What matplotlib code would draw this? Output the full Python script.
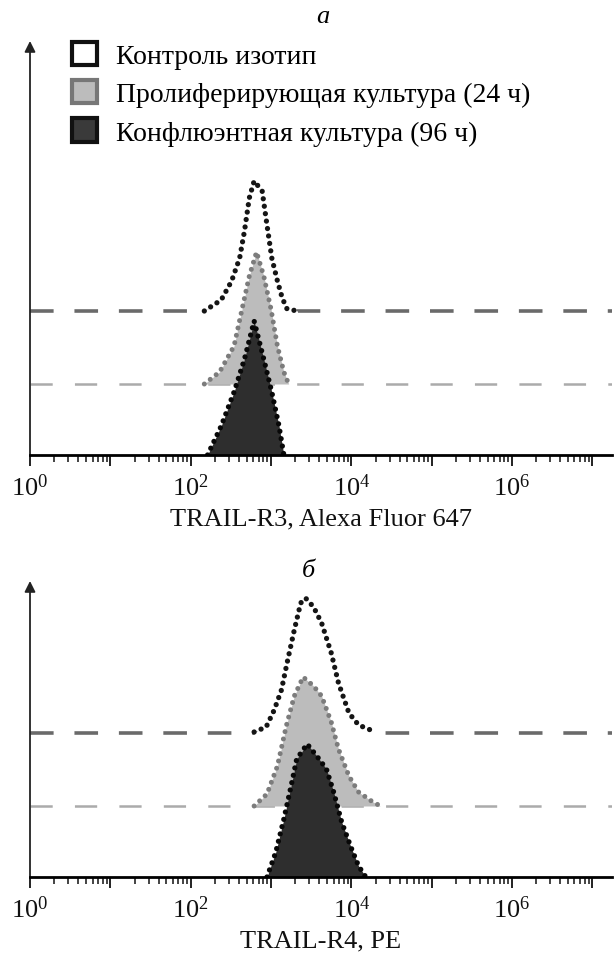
import matplotlib
matplotlib.use("Agg")
import matplotlib.pyplot as plt
import numpy as np
from matplotlib.patches import Patch
from matplotlib.ticker import FixedLocator, LogLocator, FuncFormatter

plt.rcParams['font.family'] = ['Liberation Serif', 'DejaVu Serif']
plt.rcParams['mathtext.fontset'] = 'custom'
plt.rcParams['mathtext.rm'] = 'Liberation Serif'
plt.rcParams['lines.scale_dashes'] = False

# log10 of fluorescence / peak heights (arbitrary units)
# panel a: TRAIL-R3
r3_iso_x = [2.17, 2.38, 2.51, 2.61, 2.67, 2.73, 2.79, 2.89, 2.95, 3.01, 3.08, 3.14, 3.20, 3.33]
r3_iso_y = [0, 11, 30, 53, 80, 113, 130, 120, 86, 53, 30, 13, 2, 0]
r3_pro_x = [2.17, 2.36, 2.54, 2.64, 2.73, 2.82, 2.91, 3.00, 3.08, 3.16, 3.22]
r3_pro_y = [0, 12, 38, 75, 108, 132, 108, 75, 38, 12, 0]
r3_con_x = [2.21, 2.38, 2.54, 2.67, 2.79, 2.91, 3.01, 3.10, 3.16]
r3_con_y = [0, 29, 63, 96, 134, 96, 63, 29, 0]

# panel b: TRAIL-R4
r4_iso_x = [2.79, 2.94, 3.04, 3.13, 3.20, 3.29, 3.37, 3.43, 3.53, 3.63, 3.75, 3.84, 3.97, 4.09, 4.30]
r4_iso_y = [1, 6, 23, 43, 70, 103, 130, 135, 126, 110, 80, 50, 20, 8, 1]
r4_pro_x = [2.79, 2.95, 3.08, 3.19, 3.29, 3.40, 3.53, 3.63, 3.75, 3.84, 3.97, 4.09, 4.25, 4.36]
r4_pro_y = [0, 12, 40, 80, 110, 129, 120, 110, 84, 57, 30, 14, 5, 0]
r4_con_x = [2.95, 3.06, 3.16, 3.25, 3.32, 3.45, 3.57, 3.69, 3.78, 3.88, 3.99, 4.09, 4.18]
r4_con_y = [0, 25, 58, 91, 118, 133, 121, 108, 85, 55, 31, 11, 0]

labels = ['Контроль изотип', 'Пролиферирующая культура (24 ч)', 'Конфлюэнтная культура (96 ч)']
xlabels = ['TRAIL-R3, Alexa Fluor 647', 'TRAIL-R4, PE']
titles = ['а', 'б']

off_pro = 71
off_iso = 144

fig = plt.figure(figsize=(6.16, 9.54), dpi=100)
ax1 = fig.add_axes([30/616, 1-456/954, 582/616, 414/954])
ax2 = fig.add_axes([30/616, 1-878/954, 582/616, 296/954])

DOT = (0, (0.01, 5.4))


def fmt(v, pos):
    e = int(round(np.log10(v)))
    if e % 2 == 0:
        return r'$\mathregular{10^{%d}}$' % e
    return ''


def draw(ax, iso_x, iso_y, pro_x, pro_y, con_x, con_y, top):
    xmin, xmax = 1, 10**7.245
    ax.plot([xmin, xmax], [off_iso, off_iso], color='#6a6a6a', lw=2.6, dashes=(17, 15), zorder=1)
    ax.plot([xmin, xmax], [off_pro, off_pro], color='#ababab', lw=1.8, dashes=(16, 16), zorder=1)

    ix = 10**np.array(iso_x)
    iy = np.array(iso_y) + off_iso
    ax.fill_between(ix, off_iso - 2, iy, color='white', lw=0, zorder=2)
    ax.plot(ix, iy, color='#151515', lw=3.8, ls=DOT, dash_capstyle='round', zorder=3)

    px = 10**np.array(pro_x)
    py = np.array(pro_y) + off_pro
    ax.fill_between(px, off_pro, py, color='#bcbcbc', lw=0, zorder=4)
    ax.plot(px, py, color='#7c7c7c', lw=3.6, ls=DOT, dash_capstyle='round', zorder=5)

    cx = 10**np.array(con_x)
    cy = np.array(con_y)
    ax.fill_between(cx, 0, cy, color='#2e2e2e', lw=0, zorder=6)
    ax.plot(cx, cy, color='#080808', lw=3.8, ls=DOT, dash_capstyle='round', zorder=7)

    ax.set_xscale('log')
    ax.set_xlim(xmin, xmax)
    ax.set_ylim(0, top)
    for s in ['top', 'right', 'left']:
        ax.spines[s].set_visible(False)
    ax.spines['bottom'].set_linewidth(2.0)
    ax.spines['bottom'].set_zorder(8)
    ax.set_yticks([])
    ax.xaxis.set_major_locator(FixedLocator([10.0**e for e in range(0, 8)]))
    ax.xaxis.set_minor_locator(LogLocator(base=10, subs=np.arange(2, 10), numticks=20))
    ax.xaxis.set_major_formatter(FuncFormatter(fmt))
    ax.xaxis.set_minor_formatter(FuncFormatter(lambda v, p: ''))
    ax.tick_params(axis='x', which='major', direction='out', length=8, width=1.3,
                   labelsize=19, pad=5, colors='#111111')
    ax.tick_params(axis='x', which='minor', direction='out', length=5, width=1.1,
                   colors='#111111')
    ax.annotate('', xy=(0, 1), xycoords='axes fraction', xytext=(0, -0.002),
                arrowprops=dict(arrowstyle='-|>', color='#222222', lw=1.3,
                                mutation_scale=16, shrinkA=0, shrinkB=0))


draw(ax1, r3_iso_x, r3_iso_y, r3_pro_x, r3_pro_y, r3_con_x, r3_con_y, 414)
draw(ax2, r4_iso_x, r4_iso_y, r4_pro_x, r4_pro_y, r4_con_x, r4_con_y, 296)

ax1.set_xlabel(xlabels[0], fontsize=19, labelpad=6, color='#111111')
ax2.set_xlabel(xlabels[1], fontsize=19, labelpad=6, color='#111111')

fig.text(323/616, 1-17/954, titles[0], fontsize=19, style='italic', ha='center', va='center')
fig.text(308/616, 1-571/954, titles[1], fontsize=19, style='italic', ha='center', va='center')

handles = [Patch(facecolor='white', edgecolor='#111111', lw=3),
           Patch(facecolor='#bcbcbc', edgecolor='#777777', lw=3),
           Patch(facecolor='#3a3a3a', edgecolor='#111111', lw=3)]
ax1.legend(handles, labels, loc='upper left', bbox_to_anchor=(72/616, 1-43/954),
           bbox_transform=fig.transFigure, frameon=False, fontsize=20,
           handlelength=0.9, handleheight=0.9, handletextpad=0.7,
           labelspacing=0.4, borderpad=0, borderaxespad=0)

plt.savefig('out.png', dpi=100)
